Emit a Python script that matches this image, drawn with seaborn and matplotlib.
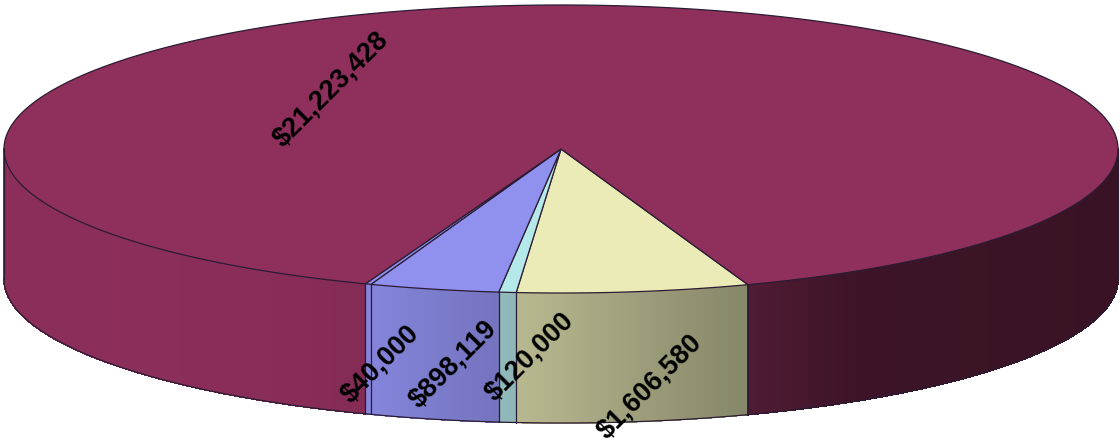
import numpy as np
import matplotlib
matplotlib.use("Agg")
import matplotlib.pyplot as plt
import seaborn as sns

# Slice data, clockwise from the right edge of the yellow slice
labels = ["$1,606,580", "$120,000", "$898,119", "$40,000", "$21,223,428"]
values = [1606580, 120000, 898119, 40000, 21223428]
colors = ["#EBEBB8", "#B5E8E8", "#9090EE", "#9090EE", "#8E2F5C"]

# Layout in image pixels
label_xy = [(650, 387), (530, 357), (453, 364), (380, 364), (331, 89)]
cx, cy, rx, ry, depth = 561, 149, 557, 144, 130
start_angle = 70.4
edge_color = "#2B1C33"

# side brightness by horizontal position
shade_x = [4, 250, 360, 500, 748, 850, 1118]
shade_f = [0.98, 0.97, 0.93, 0.80, 0.57, 0.43, 0.40]

sns.set_theme(style="white")
plt.rcParams["font.family"] = ["Liberation Sans", "DejaVu Sans"]

fig, ax = plt.subplots(figsize=(11.2, 4.43), dpi=100)
fig.subplots_adjust(0, 0, 1, 1)
ax.set_xlim(0, 1120)
ax.set_ylim(443, 0)
ax.axis("off")


def rim(t):
    r = np.radians(t)
    return cx + rx * np.cos(r), cy + ry * np.sin(r)


sweeps = np.array(values) / sum(values) * 360
starts = start_angle + np.concatenate([[0], np.cumsum(sweeps)[:-1]])

# front wall, thin strips so the shading can change along it
for a0, sweep, col in zip(starts, sweeps, colors):
    base = np.array(matplotlib.colors.to_rgb(col))
    for lo, hi in [(a0, a0 + sweep), (a0 - 360, a0 + sweep - 360)]:
        lo, hi = max(lo, 0), min(hi, 180)
        if hi <= lo:
            continue
        ts = np.linspace(lo, hi, max(int((hi - lo) * 3), 2) + 1)
        for t0, t1 in zip(ts[:-1], ts[1:]):
            x0, y0 = rim(t0)
            x1, y1 = rim(t1)
            f = np.interp((x0 + x1) / 2, shade_x, shade_f)
            ax.fill([x0, x1, x1, x0], [y0, y1, y1 + depth, y0 + depth],
                    color=base * f, lw=0.5, antialiased=False, zorder=1)
        xs, ys = rim(ts)
        ax.plot(xs, ys + depth, color=edge_color, lw=0.9, zorder=3)

# edges of the wall
for t in list(starts[:5]):
    x, y = rim(t)
    ax.plot([x, x], [y, y + depth], color=edge_color, lw=0.9, zorder=3)
for t in [0, 180]:
    x, y = rim(t)
    ax.plot([x, x], [y, y + depth], color=edge_color, lw=0.9, zorder=3)

# top face
for a0, sweep, col in zip(starts, sweeps, colors):
    ts = np.linspace(a0, a0 + sweep, max(int(sweep * 3), 2) + 1)
    xs, ys = rim(ts)
    ax.fill(np.r_[cx, xs, cx], np.r_[cy, ys, cy], facecolor=col,
            edgecolor=edge_color, lw=0.9, zorder=2, joinstyle="round")

for text, (x, y) in zip(labels, label_xy):
    ax.text(x, y, text, fontsize=19.5, fontweight="bold", rotation=45,
            ha="center", va="center", color="black", zorder=5)

fig.savefig("out.png", dpi=100)
